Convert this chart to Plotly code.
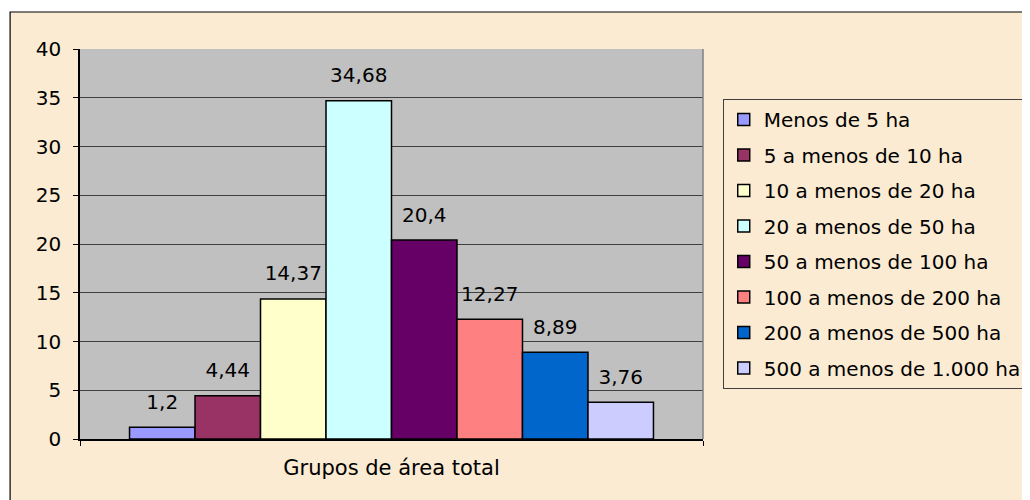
import plotly.graph_objects as go

categories = ["Grupos de área total"]
series_names = [
    "Menos de 5 ha",
    "5 a menos de 10 ha",
    "10 a menos de 20 ha",
    "20 a menos de 50 ha",
    "50 a menos de 100 ha",
    "100 a menos de 200 ha",
    "200 a menos de 500 ha",
    "500 a menos de 1.000 ha",
]
values = [1.2, 4.44, 14.37, 34.68, 20.4, 12.27, 8.89, 3.76]
colors = ["#9999FF", "#993366", "#FFFFCC", "#CCFFFF", "#660066", "#FF8080", "#0066CC", "#CCCCFF"]
y_ticks = [0, 5, 10, 15, 20, 25, 30, 35, 40]

FONT = "DejaVu Sans"
BARGAP = 0.159

fig = go.Figure()
for i, (name, v, c) in enumerate(zip(series_names, values, colors)):
    fig.add_trace(go.Bar(
        x=categories, y=[v], name=name, legendgroup=f"g{i}",
        marker=dict(color=c, line=dict(color="black", width=1.5)),
        hoverinfo="skip",
    ))
for i, v in enumerate(values):
    fig.add_trace(go.Scatter(
        x=categories, y=[v], mode="markers+text",
        text=[f"{v}".replace(".", ",")],
        textposition="top center",
        textfont=dict(family=FONT, size=20, color="black"),
        marker=dict(size=20, color="rgba(0,0,0,0)"),
        showlegend=False, hoverinfo="skip", cliponaxis=False,
    ))

shapes = [
    # white strips outside the chart border
    dict(type="rect", xref="paper", yref="paper", x0=-0.3, x1=1.7, y0=1.0949, y1=1.3,
         fillcolor="white", line=dict(width=0), layer="below"),
    dict(type="rect", xref="paper", yref="paper", x0=-0.3, x1=-0.1122, y0=-0.3, y1=1.3,
         fillcolor="white", line=dict(width=0), layer="below"),
    # chart border
    dict(type="rect", xref="paper", yref="paper", x0=-0.1122, x1=1.7, y0=-0.3, y1=1.0949,
         fillcolor="rgba(0,0,0,0)", line=dict(color="black", width=1.2)),
    # plot area right border
    dict(type="line", xref="paper", yref="paper", x0=1, x1=1, y0=0, y1=1,
         line=dict(color="#808080", width=1.5)),
]

fig.update_layout(
    width=1030, height=500,
    margin=dict(l=72, r=334, t=41, b=69),
    paper_bgcolor="#FAEBD2",
    plot_bgcolor="#C0C0C0",
    barmode="group", bargap=BARGAP, bargroupgap=0,
    scattermode="group", scattergap=BARGAP,
    font=dict(family=FONT, size=20, color="black"),
    showlegend=True,
    legend=dict(
        x=1.03, y=0.8718, xanchor="left", yanchor="top",
        bgcolor="rgba(0,0,0,0)", bordercolor="#404040", borderwidth=1,
        font=dict(family=FONT, size=20, color="black"),
        tracegroupgap=6.5, traceorder="grouped",
    ),
    shapes=shapes,
)
fig.update_xaxes(
    type="category", showline=True, linecolor="black", linewidth=1.5,
    ticks="outside", tickson="boundaries", ticklen=5, tickcolor="black",
    ticklabelstandoff=9, showgrid=False,
    tickfont=dict(family=FONT, size=21, color="black"),
)
fig.update_yaxes(
    range=[0, 40], tickvals=y_ticks, showline=True, linecolor="black", linewidth=1.5,
    ticks="outside", ticklen=5, tickcolor="black", ticklabelstandoff=8,
    showgrid=True, gridcolor="#404040", gridwidth=1, zeroline=False,
    tickfont=dict(family=FONT, size=20, color="black"),
)

fig.write_html("out.html")
